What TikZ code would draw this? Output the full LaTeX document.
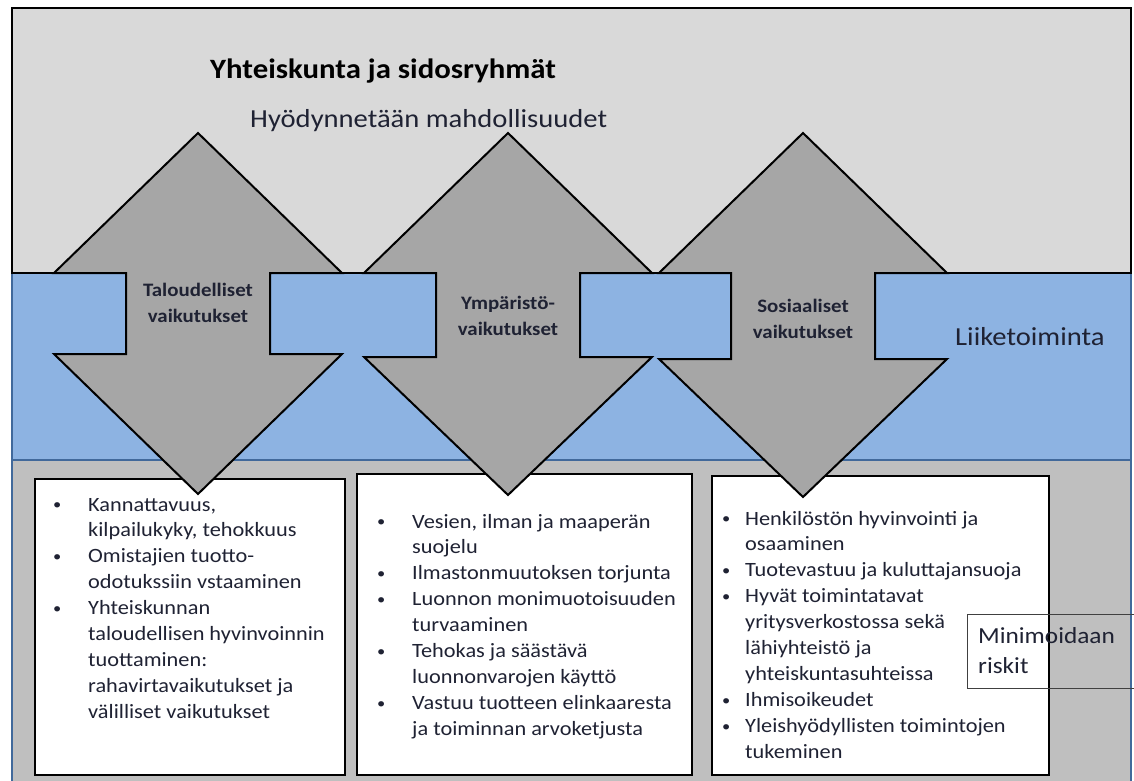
\documentclass[tikz,border=0pt]{standalone}
\usepackage{fontspec}
\setmainfont{Carlito}[FakeStretch=1.1]
\definecolor{topgray}{HTML}{D9D9D9}
\definecolor{bandblue}{HTML}{8DB3E2}
\definecolor{bandedge}{HTML}{41699B}
\definecolor{lowgray}{HTML}{BFBFBF}
\definecolor{arrowgray}{HTML}{A6A6A6}
\definecolor{inktext}{HTML}{1F2233}
% one bulleted item with a hanging indent; lines inside are broken with \newline
\newcommand{\listitem}[2]{\par\hangindent=#1\hangafter=1\noindent
  \makebox[#1][l]{\raisebox{1.2pt}{\fontsize{15}{15}\selectfont •}}#2\par}
% a paragraph stack whose baseline is its first line
\newcommand{\liststack}[1]{\vtop{\hsize=330pt\raggedright\parindent=0pt\parskip=0pt #1}}
\begin{document}
\begin{tikzpicture}[x=1pt,y=-1pt,
  regiontop/.style={fill=topgray,draw=black,line width=2.4pt},
  regionband/.style={fill=bandblue,draw=bandedge,line width=1.6pt},
  regionlow/.style={fill=lowgray,draw=bandedge,line width=1.6pt},
  listframe/.style={fill=white,draw=black,line width=2.4pt},
  arrowbody/.style={fill=arrowgray,draw=black,line width=2pt,line join=miter},
  arrowlabel/.style={font=\fontsize{19}{26}\selectfont\bfseries,text=inktext,align=center,inner sep=0pt},
  listbox/.style={font=\fontsize{20.3}{25.9}\selectfont,text=inktext,inner sep=0pt},
  bigtext/.style={font=\fontsize{26}{32}\selectfont,text=inktext,inner sep=0pt},
  riskframe/.style={draw=black!75,line width=1pt,minimum width=200pt,minimum height=74pt,inner sep=0pt}]
\useasboundingbox (0,0) rectangle (1134,780);
\fill[white] (0,0) rectangle (1134,780);

% three stacked regions
\draw[regionlow]  (12,460) rectangle (1131,800);
\draw[regionband] (12,273) rectangle (1131,460);
\draw[regiontop]  (12,8) rectangle (1131,273);

% white boxes with the impact lists
\draw[listframe] (35,479) rectangle (345,775);
\draw[listframe] (357,474) rectangle (692,775);
\draw[listframe] (712,476) rectangle (1049,775);

% double-headed arrows: centre x / lower head base / lower tip
\foreach \cx/\lb/\tp in {198/354/494, 508/357/495, 803/359/497}{
  \draw[arrowbody] (\cx,133) -- (\cx+144,273) -- (\cx+72,273) -- (\cx+72,\lb)
    -- (\cx+144,\lb) -- (\cx,\tp) -- (\cx-144,\lb) -- (\cx-72,\lb)
    -- (\cx-72,273) -- (\cx-144,273) -- cycle;
}

% headings
\node[bigtext,font=\fontsize{28}{32}\selectfont\bfseries,text=black,anchor=base west] (society) at (210,78) {Yhteiskunta ja sidosryhmät};
\node[bigtext,anchor=base west] (chances) at (250,127) {Hyödynnetään mahdollisuudet};
\node[bigtext,anchor=base west] (business) at (955,345) {Liiketoiminta};

% arrow labels (anchored on the baseline of the second line)
\node[arrowlabel,anchor=base] (econ) at (198,322) {Taloudelliset\\vaikutukset};
\node[arrowlabel,anchor=base] (envir) at (508,335) {Ympäristö-\\vaikutukset};
\node[arrowlabel,anchor=base] (social) at (803,338) {Sosiaaliset\\vaikutukset};

% lists
\node[listbox,anchor=base west] (econlist) at (53,511) {\liststack{%
  \listitem{35pt}{Kannattavuus,\newline kilpailukyky, tehokkuus}%
  \listitem{35pt}{Omistajien tuotto-\newline odotukssiin vstaaminen}%
  \listitem{35pt}{Yhteiskunnan\newline taloudellisen hyvinvoinnin\newline tuottaminen:\newline rahavirtavaikutukset ja\newline välilliset vaikutukset}}};
\node[listbox,anchor=base west] (envlist) at (377,528) {\liststack{%
  \listitem{35pt}{Vesien, ilman ja maaperän\newline suojelu}%
  \listitem{35pt}{Ilmastonmuutoksen torjunta}%
  \listitem{35pt}{Luonnon monimuotoisuuden\newline turvaaminen}%
  \listitem{35pt}{Tehokas ja säästävä\newline luonnonvarojen käyttö}%
  \listitem{35pt}{Vastuu tuotteen elinkaaresta\newline ja toiminnan arvoketjusta}}};
\node[listbox,anchor=base west] (soclist) at (722,525) {\liststack{%
  \listitem{23pt}{Henkilöstön hyvinvointi ja\newline osaaminen}%
  \listitem{23pt}{Tuotevastuu ja kuluttajansuoja}%
  \listitem{23pt}{Hyvät toimintatavat\newline yritysverkostossa sekä\newline lähiyhteistö ja\newline yhteiskuntasuhteissa}%
  \listitem{23pt}{Ihmisoikeudet}%
  \listitem{23pt}{Yleishyödyllisten toimintojen\newline tukeminen}}};

% risk text box
\node[riskframe,anchor=north west] (riskbox) at (967,614) {};
\node[bigtext,font=\fontsize{23}{30}\selectfont,align=left,anchor=base west] (risks) at (978,673) {Minimoidaan\\riskit};
\end{tikzpicture}
\end{document}
